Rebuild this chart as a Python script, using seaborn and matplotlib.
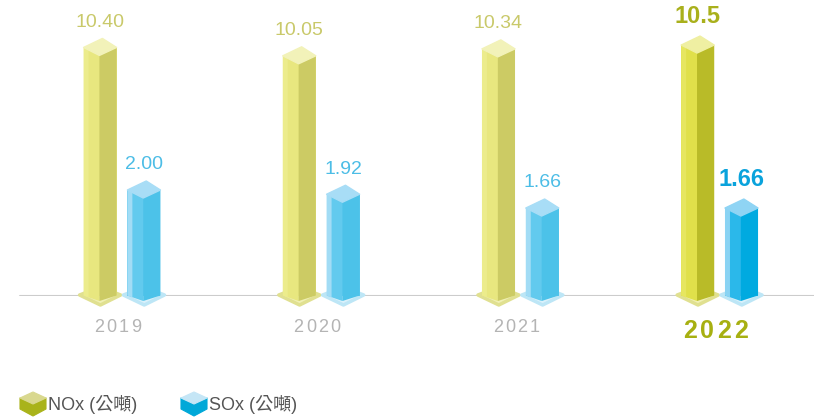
import matplotlib.pyplot as plt
import numpy as np
import pandas as pd
import seaborn as sns
from matplotlib.patches import Polygon

years = [2019, 2020, 2021, 2022]
nox = [10.40, 10.05, 10.34, 10.5]
sox = [2.00, 1.92, 1.66, 1.66]
nox_labels = ["10.40", "10.05", "10.34", "10.5"]
sox_labels = ["2.00", "1.92", "1.66", "1.66"]
legend_labels = ["NOx (公噸)", "SOx (公噸)"]

W, H = 814, 417
BASE_PX = 121          # baseline height above the bottom edge, px
NOX_PX = 23.9          # px per tonne, NOx
SOX_PX = 53.0          # px per tonne, SOx
GROUP_PX = 199.2
X0 = 2019 - 122 / GROUP_PX

# colours: (front, side, cap, base, base edge, label, front light strip)
NOX_STYLE = ("#e8e77f", "#cccb64", "#f2f2b9", "#f0f0b4", "#e0e090", "#c9c96a", "#ecec8c")
NOX_HI = ("#e0e04a", "#b9bb28", "#efefa2", "#f0f0b4", "#e0e090", "#a9b01c", "#e6e660")
SOX_STYLE = ("#62caee", "#4cc2e9", "#a8ddf6", "#daf1fb", "#bde6f6", "#4cbde6", "#a2dcf5")
SOX_HI = ("#2bb8ea", "#00aae0", "#8fd4f4", "#daf1fb", "#bde6f6", "#0aa3dc", "#8ad3f3")

sns.set_theme(style="white")
plt.rcParams["font.family"] = ["Liberation Sans", "Noto Sans CJK TC", "DejaVu Sans"]

fig = plt.figure(figsize=(W / 100, H / 100), dpi=100)
ax = fig.add_axes([0, BASE_PX / H, 1, (H - BASE_PX) / H])
ax2 = ax.twinx()

df = pd.DataFrame({"year": years, "nox": nox, "sox": sox})
sns.barplot(x=df["year"] - 0.11, y=df["nox"], native_scale=True, width=0.166,
            color=NOX_STYLE[0], saturation=1, ax=ax, zorder=3)
sns.barplot(x=df["year"] + 0.11, y=df["sox"], native_scale=True, width=0.166,
            color=SOX_STYLE[0], saturation=1, ax=ax2, zorder=3)

xlim = (X0, X0 + W / GROUP_PX)
for a, scale in ((ax, NOX_PX), (ax2, SOX_PX)):
    a.set_xlim(*xlim)
    a.set_ylim(0, (H - BASE_PX) / scale)
    a.axis("off")

ax.axhline(0, xmin=20 / W, xmax=1, color="#cccccc", lw=1.5, zorder=0.5)


def dress_bars(a, scale, style, hi, labels):
    ux = (xlim[1] - xlim[0]) / W
    uy = 1 / scale
    bars = [p for p in a.patches]

    def add(pts, **kw):
        a.add_patch(Polygon(pts, closed=True, clip_on=False, **kw))

    for i, bar in enumerate(bars):
        last = i == len(bars) - 1
        st = hi if last else style
        x0, w, h = bar.get_x(), bar.get_width(), bar.get_height()
        x1 = x0 + w
        sp = x0 + w * 0.48
        bar.set_facecolor(st[0])
        bar.set_edgecolor("none")
        # base plate
        add([(x0 - 4 * ux, 1 * uy), (sp + 1 * ux, 9 * uy), (x1 + 4 * ux, 1 * uy),
             (sp + 1 * ux, -9 * uy)], facecolor=st[3], edgecolor=st[4], lw=2.5,
            joinstyle="round", zorder=2)
        # bottom V of the front faces
        add([(x0, 0.5 * uy), (sp, -5 * uy), (sp, 0.5 * uy)], facecolor=st[0],
            edgecolor="none", zorder=3)
        # light strip on the left of the front face
        add([(x0, 0.5 * uy), (x0 + 5 * ux, -1.5 * uy), (x0 + 5 * ux, h), (x0, h)],
            facecolor=st[6], edgecolor="none", zorder=3.5)
        # right face
        add([(sp, h - 8 * uy), (x1, h), (x1, 0.5 * uy), (sp, -5 * uy)],
            facecolor=st[1], edgecolor="none", zorder=4)
        # top cap
        add([(x0, h), (sp + 3 * ux, h + 9 * uy), (x1, h), (sp, h - 8 * uy)],
            facecolor=st[2], edgecolor=st[2], lw=1, joinstyle="round", zorder=5)
        a.annotate(labels[i], xy=(x0 + w / 2, h), xytext=(0, 12), textcoords="offset points",
                   ha="center", va="bottom", color=st[5],
                   fontsize=17 if last else 14, fontweight="bold" if last else "normal",
                   zorder=6)


dress_bars(ax, NOX_PX, NOX_STYLE, NOX_HI, nox_labels)
dress_bars(ax2, SOX_PX, SOX_STYLE, SOX_HI, sox_labels)

# year labels with a little letter spacing
for i, yr in enumerate(years):
    last = i == len(years) - 1
    adv = 12.2 if last else 8.9
    for k, ch in enumerate(str(yr)):
        ax.annotate(ch, xy=(yr, 0), xytext=(-3 + (k - 1.5) * adv, -25 if last else -23),
                    textcoords="offset points", ha="center", va="center",
                    fontsize=18 if last else 13, fontweight="bold" if last else "normal",
                    color="#a7b011" if last else "#b4b4b4")


def px(x, y):
    return (x / W, (H - y) / H)


def cube(cx, top, face, top_col):
    # hexagon icon: top rhombus light, lower faces dark
    hw = 13
    fig.patches.append(Polygon([px(cx - hw, 398), px(cx, 404), px(cx + hw, 398),
                                px(cx + hw, 409), px(cx, 416), px(cx - hw, 409)],
                               closed=True, transform=fig.transFigure, facecolor=face,
                               edgecolor=face, lw=0.8, joinstyle="round"))
    fig.patches.append(Polygon([px(cx - hw, 398), px(cx, 392), px(cx + hw, 398),
                                px(cx, 404)], closed=True, transform=fig.transFigure,
                               facecolor=top_col, edgecolor=top_col, lw=0.8, joinstyle="round"))


cube(33, 392, "#a9b31a", "#d9d88f")
cube(194, 392, "#00a8d8", "#c5e6f6")
fig.text(48 / W, (H - 405) / H, legend_labels[0], ha="left", va="center",
         fontsize=13, color="#555555")
fig.text(209 / W, (H - 405) / H, legend_labels[1], ha="left", va="center",
         fontsize=13, color="#555555")

fig.savefig("out.png", dpi=100)
